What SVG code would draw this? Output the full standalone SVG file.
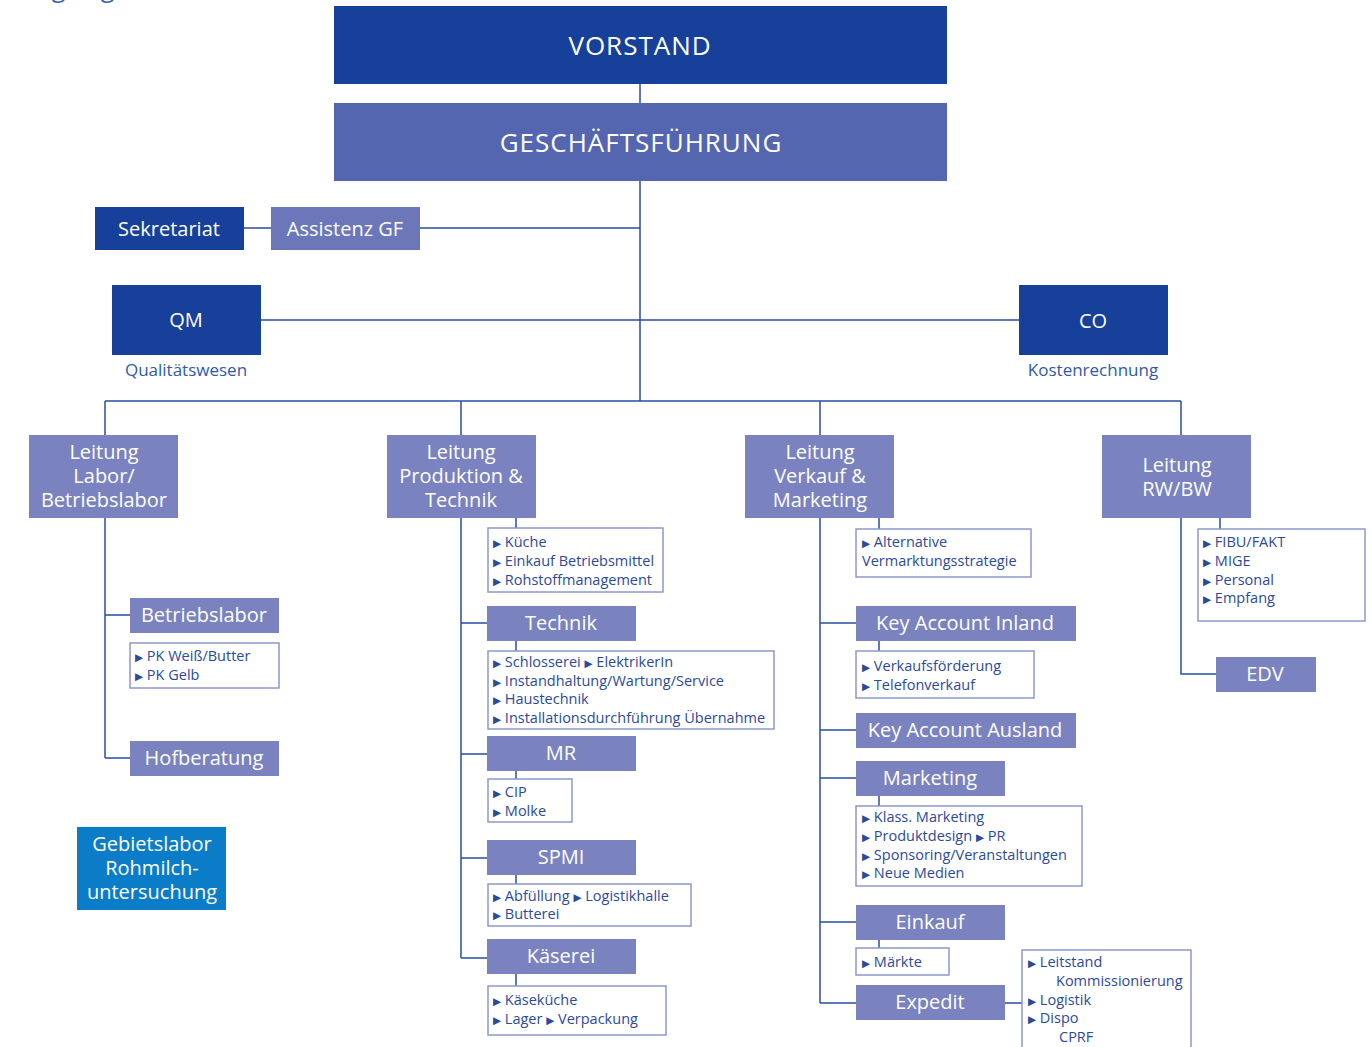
<svg xmlns="http://www.w3.org/2000/svg" width="1372" height="1047" viewBox="0 0 1372 1047">
<style>
text{font-family:"Open Sans","Noto Sans","Liberation Sans",sans-serif;}
.dk{fill:#17409a;}
.md{fill:#7a83c0;}
.as{fill:#6b77b9;}
.gf{fill:#5466b0;}
.gb{fill:#0a7cc8;}
.lbl{fill:#ffffff;font-size:20px;text-anchor:middle;}
.big{fill:#ffffff;font-size:26px;text-anchor:middle;letter-spacing:1px;}
.lst{fill:#ffffff;stroke:#8f98cc;stroke-width:1.5;}
.li{fill:#2c4a9a;font-size:14.5px;}
.b{font-size:10.5px;font-family:"DejaVu Sans",sans-serif;}
.sub{fill:#2f5aa8;font-size:17px;text-anchor:middle;}
.ln{stroke:#2a4ea0;stroke-width:1.5;fill:none;}
</style>
<rect width="1372" height="1047" fill="#ffffff"/>
<text x="22" y="-3" font-size="25" fill="#3a62b0">Organigramm</text>

<g id="connectors">
<path class="ln" d="M640 84V103M640 181V401M244 228H271M420 228H640M261 320H1019M105 401H1181M105 401V435M461 401V435M820 401V435M1181 401V435"/>
<path class="ln" d="M105 518V758M105 615H130M105 758H130"/>
<path class="ln" d="M461 518V958M516 518V528M461 623H487M516 641V651M461 754H487M516 771V779M461 858H487M516 875V884M461 958H487M516 974V986"/>
<path class="ln" d="M820 518V1003M879 518V529M820 623H856M879 641V651M820 730H856M820 778H856M879 796V806M820 922H856M879 940V948M820 1003H856M1005 1003H1022"/>
<path class="ln" d="M1181 518V674H1216M1220 518V529"/>
</g>

<g id="vorstand"><rect class="dk" x="334" y="6" width="613" height="78"/><text class="big" x="640" y="55">VORSTAND</text></g>
<g id="gf"><rect class="gf" x="334" y="103" width="613" height="78"/><text class="big" x="641" y="152" font-size="27" letter-spacing="1.5">GESCHÄFTSFÜHRUNG</text></g>
<g id="sekretariat"><rect class="dk" x="95" y="207" width="149" height="43"/><text class="lbl" x="169" y="236">Sekretariat</text></g>
<g id="assistenz"><rect class="as" x="271" y="207" width="149" height="43"/><text class="lbl" x="345" y="236">Assistenz GF</text></g>
<g id="qm"><rect class="dk" x="112" y="285" width="149" height="70"/><text class="lbl" x="186" y="327">QM</text><text class="sub" x="186" y="376">Qualitätswesen</text></g>
<g id="co"><rect class="dk" x="1019" y="285" width="149" height="70"/><text class="lbl" x="1093" y="328">CO</text><text class="sub" x="1093" y="376">Kostenrechnung</text></g>

<g id="leitung-labor"><rect class="md" x="29" y="435" width="149" height="83"/><text class="lbl"><tspan x="104" y="459">Leitung</tspan><tspan x="104" y="483">Labor/</tspan><tspan x="104" y="507">Betriebslabor</tspan></text></g>
<g id="betriebslabor"><rect class="md" x="130" y="598" width="149" height="35"/><text class="lbl" x="204" y="622">Betriebslabor</text>
<rect class="lst" x="130" y="643" width="149" height="45"/><text class="li" x="135" y="661"><tspan class="b">▶</tspan> PK Weiß/Butter</text><text class="li" x="135" y="680"><tspan class="b">▶</tspan> PK Gelb</text></g>
<g id="hofberatung"><rect class="md" x="130" y="741" width="149" height="35"/><text class="lbl" x="204" y="765">Hofberatung</text></g>
<g id="gebietslabor"><rect class="gb" x="77" y="827" width="149" height="83"/><text class="lbl"><tspan x="152" y="851">Gebietslabor</tspan><tspan x="152" y="875">Rohmilch-</tspan><tspan x="152" y="899">untersuchung</tspan></text></g>

<g id="leitung-produktion"><rect class="md" x="387" y="435" width="149" height="83"/><text class="lbl"><tspan x="461" y="459">Leitung</tspan><tspan x="461" y="483">Produktion &amp;</tspan><tspan x="461" y="507">Technik</tspan></text>
<rect class="lst" x="488" y="528" width="175" height="64"/><text class="li" x="493" y="547"><tspan class="b">▶</tspan> Küche</text><text class="li" x="493" y="566"><tspan class="b">▶</tspan> Einkauf Betriebsmittel</text><text class="li" x="493" y="585"><tspan class="b">▶</tspan> Rohstoffmanagement</text></g>
<g id="technik"><rect class="md" x="487" y="606" width="149" height="35"/><text class="lbl" x="561" y="630">Technik</text>
<rect class="lst" x="488" y="651" width="286" height="78"/><text class="li" x="493" y="667"><tspan class="b">▶</tspan> Schlosserei <tspan class="b">▶</tspan> ElektrikerIn</text><text class="li" x="493" y="686"><tspan class="b">▶</tspan> Instandhaltung/Wartung/Service</text><text class="li" x="493" y="704"><tspan class="b">▶</tspan> Haustechnik</text><text class="li" x="493" y="723"><tspan class="b">▶</tspan> Installationsdurchführung Übernahme</text></g>
<g id="mr"><rect class="md" x="487" y="736" width="149" height="35"/><text class="lbl" x="561" y="760">MR</text>
<rect class="lst" x="488" y="779" width="84" height="43"/><text class="li" x="493" y="797"><tspan class="b">▶</tspan> CIP</text><text class="li" x="493" y="816"><tspan class="b">▶</tspan> Molke</text></g>
<g id="spmi"><rect class="md" x="487" y="840" width="149" height="35"/><text class="lbl" x="561" y="864">SPMI</text>
<rect class="lst" x="488" y="884" width="203" height="42"/><text class="li" x="493" y="901"><tspan class="b">▶</tspan> Abfüllung <tspan class="b">▶</tspan> Logistikhalle</text><text class="li" x="493" y="919"><tspan class="b">▶</tspan> Butterei</text></g>
<g id="kaeserei"><rect class="md" x="487" y="939" width="149" height="35"/><text class="lbl" x="561" y="963">Käserei</text>
<rect class="lst" x="488" y="986" width="178" height="49"/><text class="li" x="493" y="1005"><tspan class="b">▶</tspan> Käseküche</text><text class="li" x="493" y="1024"><tspan class="b">▶</tspan> Lager <tspan class="b">▶</tspan> Verpackung</text></g>

<g id="leitung-verkauf"><rect class="md" x="745" y="435" width="149" height="83"/><text class="lbl"><tspan x="820" y="459">Leitung</tspan><tspan x="820" y="483">Verkauf &amp;</tspan><tspan x="820" y="507">Marketing</tspan></text>
<rect class="lst" x="856" y="529" width="175" height="48"/><text class="li" x="862" y="547"><tspan class="b">▶</tspan> Alternative</text><text class="li" x="862" y="566">Vermarktungsstrategie</text></g>
<g id="ka-inland"><rect class="md" x="856" y="606" width="220" height="35"/><text class="lbl" x="965" y="630">Key Account Inland</text>
<rect class="lst" x="856" y="651" width="178" height="47"/><text class="li" x="862" y="671"><tspan class="b">▶</tspan> Verkaufsförderung</text><text class="li" x="862" y="690"><tspan class="b">▶</tspan> Telefonverkauf</text></g>
<g id="ka-ausland"><rect class="md" x="856" y="713" width="220" height="35"/><text class="lbl" x="965" y="737">Key Account Ausland</text></g>
<g id="marketing"><rect class="md" x="856" y="761" width="149" height="35"/><text class="lbl" x="930" y="785">Marketing</text>
<rect class="lst" x="856" y="806" width="226" height="80"/><text class="li" x="862" y="822"><tspan class="b">▶</tspan> Klass. Marketing</text><text class="li" x="862" y="841"><tspan class="b">▶</tspan> Produktdesign <tspan class="b">▶</tspan> PR</text><text class="li" x="862" y="860"><tspan class="b">▶</tspan> Sponsoring/Veranstaltungen</text><text class="li" x="862" y="878"><tspan class="b">▶</tspan> Neue Medien</text></g>
<g id="einkauf"><rect class="md" x="856" y="905" width="149" height="35"/><text class="lbl" x="930" y="929">Einkauf</text>
<rect class="lst" x="856" y="948" width="93" height="27"/><text class="li" x="862" y="967"><tspan class="b">▶</tspan> Märkte</text></g>
<g id="expedit"><rect class="md" x="856" y="985" width="149" height="35"/><text class="lbl" x="930" y="1009">Expedit</text>
<rect class="lst" x="1022" y="950" width="169" height="110"/><text class="li" x="1028" y="967"><tspan class="b">▶</tspan> Leitstand</text><text class="li" x="1056" y="986">Kommissionierung</text><text class="li" x="1028" y="1005"><tspan class="b">▶</tspan> Logistik</text><text class="li" x="1028" y="1023"><tspan class="b">▶</tspan> Dispo</text><text class="li" x="1059" y="1042">CPRF</text></g>

<g id="leitung-rw"><rect class="md" x="1102" y="435" width="149" height="83"/><text class="lbl"><tspan x="1177" y="472">Leitung</tspan><tspan x="1177" y="496">RW/BW</tspan></text>
<rect class="lst" x="1198" y="529" width="167" height="92"/><text class="li" x="1203" y="547"><tspan class="b">▶</tspan> FIBU/FAKT</text><text class="li" x="1203" y="566"><tspan class="b">▶</tspan> MIGE</text><text class="li" x="1203" y="585"><tspan class="b">▶</tspan> Personal</text><text class="li" x="1203" y="603"><tspan class="b">▶</tspan> Empfang</text></g>
<g id="edv"><rect class="md" x="1216" y="657" width="100" height="35"/><text class="lbl" x="1265" y="681">EDV</text></g>
</svg>
